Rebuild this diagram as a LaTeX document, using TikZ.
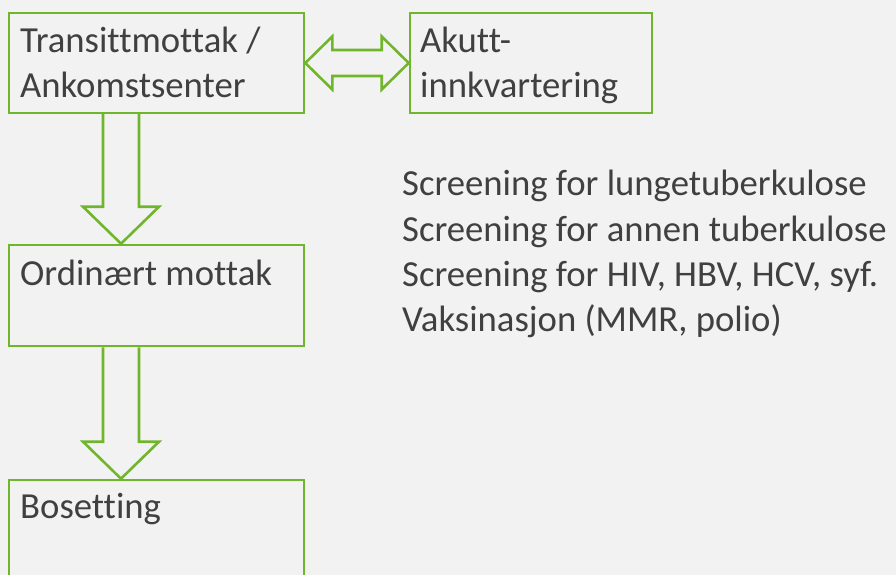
\documentclass[tikz,border=0pt]{standalone}
\usepackage{fontspec}
\setmainfont{Carlito}[Ligatures=NoCommon]
\usetikzlibrary{calc}
\definecolor{bg}{HTML}{F2F2F2}
\definecolor{grn}{HTML}{70B62C}
\definecolor{txt}{HTML}{404040}
\begin{document}
\begin{tikzpicture}[x=1pt,y=-1pt,
  box/.style={draw=grn, line width=2.6pt, rectangle, inner sep=0pt},
  lbl/.style={anchor=base west, inner sep=0pt, text=txt, font=\fontsize{36.7}{44}\selectfont},
  bigarrow/.style={draw=grn, line width=2.6pt, line join=miter}]
\fill[bg] (0,0) rectangle (896,575);
\useasboundingbox (0,0) rectangle (896,575);
\begin{scope}
\clip (0,0) rectangle (896,575);
% boxes
\node[box, minimum width=295pt, minimum height=100pt] (b1) at (156.5,63) {};
\node[box, minimum width=242pt, minimum height=100pt] (b2) at (531,63) {};
\node[box, minimum width=295pt, minimum height=101pt] (b3) at (156.5,295.5) {};
\node[box, minimum width=295pt, minimum height=120pt] (b4) at (156.5,540) {};
% labels
\node[lbl] (t1a) at (20,53) {Transittmottak /};
\node[lbl] (t1b) at (20,98) {Ankomstsenter};
\node[lbl] (t2a) at (420,53) {Akutt-};
\node[lbl] (t2b) at (420,98) {innkvartering};
\node[lbl] (t3) at (20,285) {Ordinært mottak};
\node[lbl] (t4) at (20,518) {Bosetting};
\node[lbl] (s1) at (402,195) {Screening for lungetuberkulose};
\node[lbl] (s2) at (402,241) {Screening for annen tuberkulose};
\node[lbl] (s3) at (402,286) {Screening for HIV, HBV, HCV, syf.};
\node[lbl] (s4) at (402,331) {Vaksinasjon (MMR, polio)};
% double arrow between b1 and b2
\coordinate (dl) at (b1.east);
\coordinate (dr) at (b2.west);
\draw[bigarrow] (dl) -- ++(27,-26.5) -- ++(0,13.5) -- ($(dr)+(-27,-13)$) -- ($(dr)+(-27,-26.5)$) -- (dr)
  -- ($(dr)+(-27,26.5)$) -- ($(dr)+(-27,13)$) -- ($(dl)+(27,13)$) -- ($(dl)+(27,26.5)$) -- cycle;
% down arrows
\coordinate (a1s) at (121,113);
\coordinate (a1e) at (b3.north -| a1s);
\draw[bigarrow] ($(a1s)+(-18,0)$) -- ($(a1e)+(-18,-37)$) -- ($(a1e)+(-38,-37)$) -- (a1e)
  -- ($(a1e)+(38,-37)$) -- ($(a1e)+(18,-37)$) -- ($(a1s)+(18,0)$);
\coordinate (a2s) at (b3.south -| a1s);
\coordinate (a2e) at (b4.north -| a1s);
\draw[bigarrow] ($(a2s)+(-18,0)$) -- ($(a2e)+(-18,-37)$) -- ($(a2e)+(-38,-37)$) -- (a2e)
  -- ($(a2e)+(38,-37)$) -- ($(a2e)+(18,-37)$) -- ($(a2s)+(18,0)$);
\end{scope}
\end{tikzpicture}
\end{document}
